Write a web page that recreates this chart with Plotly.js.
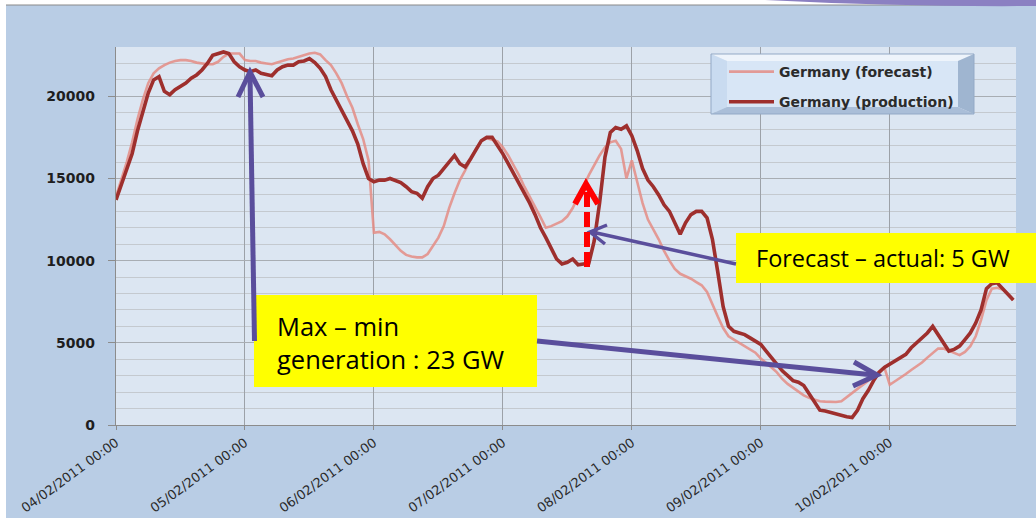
<!DOCTYPE html>
<html>
<head>
<meta charset="utf-8">
<script src="https://cdn.plot.ly/plotly-3.0.1.min.js"></script>
<style>
  html, body { margin: 0; padding: 0; background: #ffffff; }
  #chart { width: 1036px; height: 525px; }
</style>
</head>
<body>
<div id="chart"></div>
<script>
// ---- Data (hourly, starting 04/02/2011 00:00) ----
const seriesStart = '2011-02-04 00:00';
const stepHours = 1;

const seriesNames = ['Germany (forecast)', 'Germany (production)'];

const forecastMW = [
  13900,14900,16000,17200,18600,19800,20800,21400,21700,21900,
  22050,22150,22200,22200,22150,22050,22000,21950,21950,22100,
  22400,22600,22600,22600,22200,22150,22150,22050,22000,21950,
  22050,22150,22250,22300,22400,22500,22600,22650,22550,22200,
  21900,21400,20800,20000,19300,18300,17400,16100,11700,11750,
  11600,11300,10950,10600,10350,10250,10200,10200,10400,10900,
  11400,12100,13200,14100,14900,15500,16200,16800,17300,17450,
  17350,17250,16900,16400,15800,15200,14500,13900,13300,12650,
  12000,12100,12250,12400,12700,13200,13900,14500,15200,15800,
  16400,16900,17200,17300,16800,15000,16100,14800,13500,12500,
  11900,11300,10600,10000,9500,9200,9050,8900,8700,8500,
  8100,7300,6600,5900,5400,5200,5000,4850,4650,4400,
  4050,3800,3500,3200,2800,2500,2250,2000,1800,1650,
  1550,1450,1420,1400,1400,1450,1700,1900,2150,2400,
  2700,3000,3250,3500,2450,2650,2850,3100,3350,3550,
  3800,4100,4350,4650,4650,4500,4350,4250,4450,4800,
  5400,6400,7600,8300,8350,8250,7950,7600
];

const productionMW = [
  13700,14600,15500,16500,17900,19100,20200,21000,21200,20300,
  20100,20400,20600,20800,21100,21300,21600,22000,22500,22600,
  22700,22600,22100,21800,21600,21500,21600,21400,21350,21250,
  21600,21800,21900,21900,22100,22150,22300,22050,21700,21200,
  20400,19800,19100,18500,17900,17100,15900,15000,14800,14900,
  14900,15000,14850,14750,14500,14200,14100,13800,14500,15000,
  15200,15600,16000,16400,15900,15700,16200,16800,17300,17500,
  17500,17000,16500,15900,15300,14800,14200,13500,12800,12000,
  11400,10700,10100,9800,9900,10100,9750,9800,9850,11200,
  13500,16300,17800,18100,18000,18200,17600,16700,15600,14900,
  14500,14000,13400,13000,12300,11600,12300,12800,13000,13000,
  12600,11300,9300,7200,6000,5700,5600,5500,5300,5100,
  4900,4500,4100,3700,3300,3000,2700,2600,2400,1900,
  1400,900,850,750,700,600,500,450,900,1600,
  2100,2700,3200,3500,3700,3900,4100,4300,4700,5000,
  5300,5600,6000,5500,5000,4500,4600,4800,5200,5600,
  6200,7000,8300,8600,8650,8300,8000,7600
];

const xTickDates = ['2011-02-04','2011-02-05','2011-02-06','2011-02-07','2011-02-08','2011-02-09','2011-02-10'];
const xRange = ['2011-02-04 00:00', '2011-02-10 23:30'];
const yRange = [0, 23000];

const note1 = 'Max \u2013 min<br>generation : 23 GW';
const note2 = 'Forecast \u2013 actual: 5 GW';

// ---- time stamps for the hourly samples ----
function pad(n){ return (n < 10 ? '0' : '') + n; }
function hourlyTimes(start, count, step){
  const t0 = new Date(start.replace(' ', 'T') + ':00Z').getTime();
  const out = [];
  for (let i = 0; i < count; i++) {
    const d = new Date(t0 + i * step * 3600000);
    out.push(d.getUTCFullYear() + '-' + pad(d.getUTCMonth()+1) + '-' + pad(d.getUTCDate()) +
             ' ' + pad(d.getUTCHours()) + ':' + pad(d.getUTCMinutes()));
  }
  return out;
}
const times = hourlyTimes(seriesStart, productionMW.length, stepHours);

// ---- layout geometry helpers (pixel -> paper) ----
const W = 1036, H = 525;
const M = { l: 116, r: 20, t: 47, b: 100 };
const PW = W - M.l - M.r, PH = H - M.t - M.b;
const X = px => (px - M.l) / PW;
const Y = py => (H - M.b - py) / PH;
const P = pts => pts.map((p, i) => (i ? 'L' : 'M') + X(p[0]) + ',' + Y(p[1])).join(' ');

const purple = '#5a4e9c';
const shapes = [
  // white frame bits around the slide picture
  { type:'rect', xref:'paper', yref:'paper', x0:X(0), x1:X(W), y0:Y(0), y1:Y(5), fillcolor:'#ffffff', line:{width:0}, layer:'above' },
  { type:'line', xref:'paper', yref:'paper', x0:X(0), x1:X(W), y0:Y(5), y1:Y(5), line:{color:'#8a8a8a', width:1.2}, layer:'above' },
  { type:'rect', xref:'paper', yref:'paper', x0:X(0), x1:X(6), y0:Y(0), y1:Y(H), fillcolor:'#ffffff', line:{width:0}, layer:'above' },
  { type:'rect', xref:'paper', yref:'paper', x0:X(0), x1:X(W), y0:Y(518), y1:Y(H), fillcolor:'#ffffff', line:{width:0}, layer:'above' },
  // purple swoosh at top right
  { type:'path', xref:'paper', yref:'paper', layer:'above',
    path:'M' + X(765) + ',' + Y(0) + ' Q' + X(900) + ',' + Y(7) + ' ' + X(1036) + ',' + Y(6) + ' L' + X(1036) + ',' + Y(0) + ' Z',
    fillcolor:'#8b80c2', line:{width:0} },

  // bevelled legend box
  { type:'path', xref:'paper', yref:'paper', layer:'above', path: P([[711,54],[974,54],[958,61],[727,61]]) + ' Z', fillcolor:'#eef4fb', line:{width:0} },
  { type:'path', xref:'paper', yref:'paper', layer:'above', path: P([[711,54],[727,61],[727,107],[711,114]]) + ' Z', fillcolor:'#c9dbf0', line:{width:0} },
  { type:'path', xref:'paper', yref:'paper', layer:'above', path: P([[974,54],[974,114],[958,107],[958,61]]) + ' Z', fillcolor:'#9fb5d0', line:{width:0} },
  { type:'path', xref:'paper', yref:'paper', layer:'above', path: P([[711,114],[727,107],[958,107],[974,114]]) + ' Z', fillcolor:'#aabed8', line:{width:0} },
  { type:'rect', xref:'paper', yref:'paper', layer:'above', x0:X(727), x1:X(958), y0:Y(107), y1:Y(61), fillcolor:'#d8e6f6', line:{width:0} },
  { type:'rect', xref:'paper', yref:'paper', layer:'above', x0:X(711), x1:X(974), y0:Y(114), y1:Y(54), fillcolor:'rgba(0,0,0,0)', line:{color:'#93a9c6', width:1} },

  // yellow note boxes
  { type:'rect', xref:'paper', yref:'paper', layer:'above', x0:X(254), x1:X(537), y0:Y(387), y1:Y(295), fillcolor:'#ffff00', line:{width:0} },
  { type:'rect', xref:'paper', yref:'paper', layer:'above', x0:X(736), x1:X(1036), y0:Y(283), y1:Y(233), fillcolor:'#ffff00', line:{width:0} },

  // purple arrow: max marker (vertical)
  { type:'path', xref:'paper', yref:'paper', layer:'above', path: P([[254.5,341],[250,75]]), line:{color:purple, width:5} },
  { type:'path', xref:'paper', yref:'paper', layer:'above', path: P([[238,97],[250,72],[263,97]]), line:{color:purple, width:5} },
  // purple arrow: to min region
  { type:'path', xref:'paper', yref:'paper', layer:'above', path: P([[537,341],[874,375]]), line:{color:purple, width:5} },
  { type:'path', xref:'paper', yref:'paper', layer:'above', path: P([[854,362],[877,375],[853,386]]), line:{color:purple, width:5} },
  // purple arrow: forecast-actual gap
  { type:'path', xref:'paper', yref:'paper', layer:'above', path: P([[736,264],[592,232]]), line:{color:purple, width:3.5} },
  { type:'path', xref:'paper', yref:'paper', layer:'above', path: P([[607,225],[590,232],[605,244]]), line:{color:purple, width:3.5} },

  // red dashed arrow
  { type:'line', xref:'paper', yref:'paper', layer:'above', x0:X(587), x1:X(587), y0:Y(267), y1:Y(192), line:{color:'#ff0000', width:6, dash:'15px,5px'} },
  { type:'path', xref:'paper', yref:'paper', layer:'above', path: P([[575,204],[586,184],[598,204]]), line:{color:'#ff0000', width:6} }
];

const annotations = [
  { xref:'paper', yref:'paper', x:X(275), y:Y(342), xanchor:'left', yanchor:'middle', align:'left',
    text: note1, showarrow:false, font:{family:'Open Sans, sans-serif', size:25.5, color:'#000000'} },
  { xref:'paper', yref:'paper', x:X(754), y:Y(258), xanchor:'left', yanchor:'middle', align:'left',
    text: note2, showarrow:false, font:{family:'Open Sans, sans-serif', size:23.5, color:'#000000'} }
];

const traces = [
  { type:'scatter', mode:'lines', name: seriesNames[0], x: times, y: forecastMW,
    line:{color:'rgba(228,140,133,0.85)', width:2.6}, legendgroup:'f', hoverinfo:'x+y' },
  { type:'scatter', mode:'lines', name: seriesNames[1], x: times, y: productionMW,
    line:{color:'#9e2f2d', width:3.6}, legendgroup:'p', hoverinfo:'x+y' }
];

const layout = {
  width: W, height: H,
  margin: { l: M.l, r: M.r, t: M.t, b: M.b, pad: 0 },
  paper_bgcolor: '#b9cde5',
  plot_bgcolor: '#dce6f2',
  showlegend: true,
  legend: {
    x: X(724), y: Y(56), xanchor:'left', yanchor:'top',
    bgcolor:'rgba(0,0,0,0)', borderwidth:0,
    font:{family:'DejaVu Sans, sans-serif', size:14, color:'#2b2b2b', weight:'bold'},
    itemwidth: 45, tracegroupgap: 9
  },
  xaxis: {
    type:'date', range: xRange,
    tickmode:'array', tickvals: xTickDates, tickformat:'%d/%m/%Y %H:%M',
    tickangle: -36,
    tickfont:{family:'DejaVu Sans, sans-serif', size:13, color:'#2a2a2a'},
    showgrid:true, gridcolor:'#9ca1a8', gridwidth:1,
    showline:true, linecolor:'#8c8c8c', linewidth:1.2,
    ticks:'outside', ticklen:4, tickcolor:'#8c8c8c',
    zeroline:false, fixedrange:true
  },
  yaxis: {
    range: yRange, tick0:0, dtick:5000, tickformat:'d',
    tickfont:{family:'DejaVu Sans, sans-serif', size:14, color:'#1e1e1e', weight:'bold'},
    showgrid:true, gridcolor:'#a8adb3', gridwidth:1,
    minor:{ dtick:1000, showgrid:true, gridcolor:'#c4c9cf', gridwidth:1 },
    showline:true, linecolor:'#8c8c8c', linewidth:1.2,
    ticks:'outside', ticklen:7, tickcolor:'#8c8c8c',
    ticklabelstandoff: 10,
    zeroline:false, fixedrange:true
  },
  shapes: shapes,
  annotations: annotations
};

Plotly.newPlot('chart', traces, layout, {displayModeBar:false, staticPlot:true});
</script>
</body>
</html>
